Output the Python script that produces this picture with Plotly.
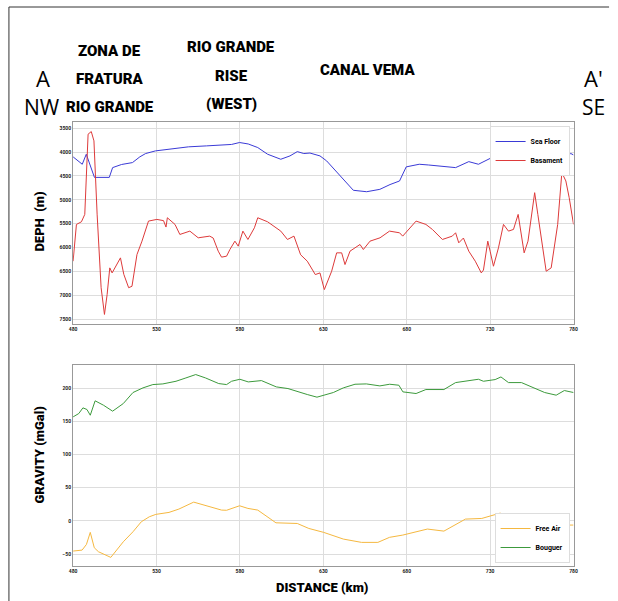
import plotly.graph_objects as go

# ---------------- data ----------------
seafloor_km = [480, 485.5, 487.9, 492.8, 501.7, 503.7, 509, 515.6, 520, 523.5, 529.4, 540, 549.2, 560, 569, 575,
               579.8, 585, 590.7, 596.6, 604.5, 610, 614.4, 618.3, 622, 628, 632, 636, 640, 644, 648, 656, 663.9,
               670, 675.7, 679.7, 687.5, 693, 699.4, 709.3, 717.2, 723, 731, 736, 742.9, 748, 754.7, 760,
               766.6, 774.5, 778.4, 780]
seafloor_m = [4100, 4255, 4045, 4530, 4530, 4325, 4260, 4220, 4100, 4030, 3975, 3930, 3890, 3870, 3850, 3840,
              3800, 3830, 3905, 4045, 4150, 4080, 3990, 4030, 4020, 4080, 4185, 4340, 4500, 4640, 4800, 4830, 4780,
              4680, 4605, 4310, 4255, 4270, 4290, 4325, 4200, 4255, 4115, 4120, 4080, 4070, 4045, 4060,
              4060, 4100, 4030, 4060]

basement_km = [480, 482, 485, 487, 489, 490.9, 492.5, 494.4, 496.8, 498.8, 500.4, 502, 503.4, 506.4, 508.4,
               510.4, 513.3, 515.3, 518.3, 521.3, 525.2, 530.2, 534.2, 535.7, 536.5, 541.1, 544, 550, 555,
               561.9, 564, 567, 569, 572, 574, 577, 579, 581.8, 584.8, 588.7, 590.7, 596.6, 604.5, 608.5,
               612.4, 616.4, 620.4, 625.2, 628, 630.6, 635, 638, 641, 643, 646, 652, 654, 658, 664, 669.7,
               675.7, 677.6, 683.6, 685.6, 691.5, 695.4, 701.4, 707.3, 709.3, 711.2, 714, 717.2, 721.1,
               724.7, 726, 728.6, 730, 732, 735, 738, 741, 744, 746.8, 747.8, 750.4, 752.7, 756.7, 758.6,
               763.6, 766.6, 770.5, 773, 775.4, 777.4, 780]
basement_m = [6285, 5515, 5460, 5305, 3625, 3570, 3765, 5300, 6840, 7400, 6985, 6425, 6530, 6355, 6215,
              6560, 6840, 6810, 6145, 5865, 5445, 5410, 5435, 5570, 5375, 5515, 5725, 5655, 5795,
              5760, 5800, 6075, 6200, 6180, 6040, 5865, 5970, 5655, 5830, 5585, 5375, 5460, 5655, 5830,
              5760, 6150, 6285, 6565, 6530, 6880, 6495, 6110, 6110, 6355, 6075, 5935, 6040, 5865, 5795, 5655,
              5690, 5760, 5515, 5445, 5515, 5620, 5830, 5760, 5690, 5900, 5800, 6075, 6285,
              6530, 6470, 5865, 6075, 6390, 6005, 5515, 5655, 5620, 5305, 5515, 6110, 5865, 4850, 5305,
              6495, 6425, 5515, 4430, 4605, 4955, 5515]

bouguer_km = [480, 483.4, 485.9, 488.3, 490.3, 493.2, 498.2, 503.7, 510.1, 515.9, 521.9, 527.8, 533.8, 541.7,
              547.6, 553.5, 559.4, 567.3, 572, 575, 580, 585, 592.9, 601.8, 608.8, 614.7, 620.4, 626.2, 631,
              636, 642, 649, 655.8, 663.9, 669.8, 675.3, 677.7, 685.6, 691.5, 702.3, 709.3, 717.2, 723, 726,
              733, 736.5, 741, 748.8, 754.8, 762.7, 769.6, 774.5, 780]
bouguer_mgal = [156.8, 161.8, 170.4, 167.9, 159.3, 181, 174.4, 165.4, 176.9, 193.5, 200.5, 205.5, 206.5, 210.5,
                215.5, 220.6, 215.5, 207, 205.5, 210.5, 213.5, 209.5, 211.5, 202, 199.5, 194.5, 190.5, 186.5, 190.5,
                193.5, 200.5, 206, 206.5, 203.5, 206, 204.5, 194.5, 192, 198, 198, 208.5, 211.5, 213.5, 210.5,
                213, 217, 208.5, 208.5, 202, 193.5, 189.5, 196.5, 193.5]

freeair_km = [480, 485.4, 488, 490.3, 492.7, 495.2, 502.6, 510.1, 515.9, 520.9, 525.7, 529.6, 537.5, 543.4,
              552.3, 559.2, 569, 572, 579.8, 584.8, 590.7, 601.6, 614.4, 621.3, 630.2, 642, 652.9, 662.7,
              669.7, 677.6, 692.4, 702.3, 715.2, 725, 731, 736, 741, 748.8, 758.6, 768.5, 774.5, 780]
freeair_mgal = [-45.5, -44, -35.5, -17.3, -40.5, -46.5, -55, -31.5, -16.4, -1.3, 6.2, 9.8, 12.8, 17.8,
                28.3, 23.8, 16.3, 16, 22.8, 18.8, 16.3, -2.9, -3.9, -11.4, -17.3, -27.4, -32.4, -32.4,
                -24.8, -21.4, -12.3, -15.4, 2.7, 3.7, 7.7, 11.7, 6.2, 7.2, -1.3, -11.4, -6.3, -6.3]

dist_ticks = [480, 530, 580, 630, 680, 730, 780]
depth_ticks = [3500, 4000, 4500, 5000, 5500, 6000, 6500, 7000, 7500]
grav_ticks = [-50, 0, 50, 100, 150, 200]

# ---------------- figure ----------------
W, H = 618, 601
COND = "Roboto, Liberation Sans, sans-serif"
THIN = "Open Sans, Noto Sans, sans-serif"

fig = go.Figure()
fig.add_trace(go.Scatter(x=seafloor_km, y=seafloor_m, mode="lines", name="Sea Floor",
                         line=dict(color="#3a3ad6", width=1), xaxis="x", yaxis="y", legend="legend"))
fig.add_trace(go.Scatter(x=basement_km, y=basement_m, mode="lines", name="Basament",
                         line=dict(color="#dd3a3a", width=1), xaxis="x", yaxis="y", legend="legend"))
fig.add_trace(go.Scatter(x=freeair_km, y=freeair_mgal, mode="lines", name="Free Air",
                         line=dict(color="#f5b840", width=1), xaxis="x2", yaxis="y2", legend="legend2"))
fig.add_trace(go.Scatter(x=bouguer_km, y=bouguer_mgal, mode="lines", name="Bouguer",
                         line=dict(color="#3c9a3c", width=1), xaxis="x2", yaxis="y2", legend="legend2"))

xd = [70 / W, 577 / W]
ax_common = dict(showgrid=True, gridcolor="#dddddd", gridwidth=1, showline=True, linecolor="#999999",
                 linewidth=1, mirror=True, ticks="", zeroline=False,
                 tickfont=dict(family=COND, size=5, color="#222222", weight="bold"))

fig.update_layout(
    width=W, height=H, margin=dict(l=0, r=0, t=0, b=0),
    paper_bgcolor="white", plot_bgcolor="white", showlegend=True,
    xaxis=dict(domain=xd, range=[480, 780], tickvals=dist_ticks, anchor="y", **ax_common),
    yaxis=dict(domain=[1 - 324 / H, 1 - 122 / H], range=[7600, 3370], tickvals=depth_ticks,
               anchor="x", **ax_common),
    xaxis2=dict(domain=xd, range=[480, 780], tickvals=dist_ticks, anchor="y2", **ax_common),
    yaxis2=dict(domain=[1 - 566 / H, 1 - 365 / H], range=[-68, 235], tickvals=grav_ticks,
                anchor="x2", **ax_common),
    legend=dict(x=573 / W, y=1 - 126 / H, xanchor="right", yanchor="top", bgcolor="white",
                bordercolor="#dddddd", borderwidth=1,
                font=dict(family=COND, size=7, color="black", weight="bold"),
                itemwidth=30, tracegroupgap=0),
    legend2=dict(x=573 / W, y=1 - 563 / H, xanchor="right", yanchor="bottom", bgcolor="white",
                 bordercolor="#dddddd", borderwidth=1,
                 font=dict(family=COND, size=7, color="black", weight="bold"),
                 itemwidth=30, tracegroupgap=0),
)

def ann(text, x, y, size, family, weight=900, angle=0):
    fig.add_annotation(text=text, x=x / W, y=1 - y / H,
                       xref="paper", yref="paper", showarrow=False, textangle=angle,
                       font=dict(family=family, size=size, color="black", weight=weight),
                       xanchor="center", yanchor="middle")

# headers
ann("A", 40, 78, 22, THIN, weight=400)
ann("NW", 38, 107, 21, THIN, weight=400)
ann("A'", 597, 78, 22, THIN, weight=400)
ann("SE", 597, 107, 21, THIN, weight=400)
ann("ZONA DE", 107, 51, 15, COND)
ann("FRATURA", 107, 79, 15, COND)
ann("RIO GRANDE", 107, 107, 15, COND)
ann("RIO GRANDE", 230, 47, 15, COND)
ann("RISE", 230, 76, 15, COND)
ann("(WEST)", 230, 104, 15, COND)
ann("CANAL VEMA", 368, 70, 15, COND)

# axis titles
ann("DEPH  (m)", 35, 222, 13, COND, angle=-90)
ann("GRAVITY (mGal)", 35, 455, 13, COND, angle=-90)
ann("DISTANCE (km)", 322, 587, 13, COND)

# border lines of the image frame
fig.add_shape(type="line", xref="paper", yref="paper", x0=5 / W, x1=613 / W, y0=1 - 7 / H, y1=1 - 7 / H,
              line=dict(color="#333333", width=1))
fig.add_shape(type="line", xref="paper", yref="paper", x0=5 / W, x1=5 / W, y0=1 - 7 / H, y1=0,
              line=dict(color="#333333", width=1))

fig.write_html("out.html")
